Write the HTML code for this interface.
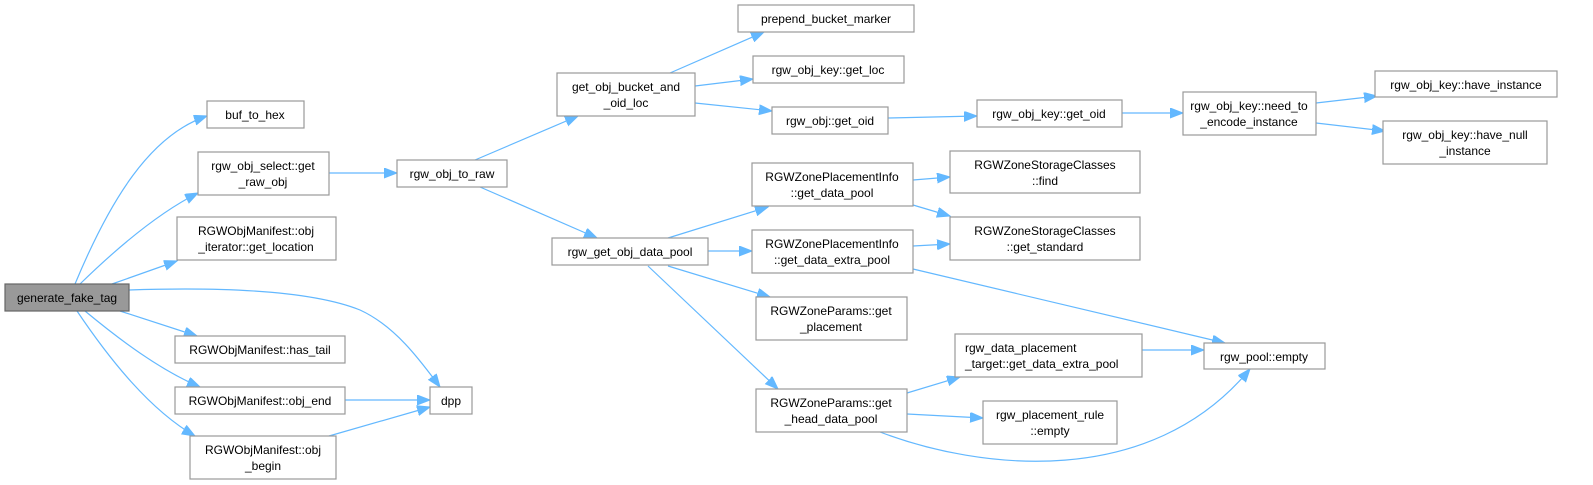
<!DOCTYPE html>
<html><head><meta charset="utf-8"><style>
html,body{margin:0;padding:0;background:#fff;}
svg{display:block;}
text{font-family:"Liberation Sans",sans-serif;font-size:12px;fill:#000;}
rect{fill:#fff;stroke:#999;stroke-width:1.2;}
path.e{fill:none;stroke:#63b8ff;stroke-width:1.2;}
</style></head><body>
<svg width="1593" height="485" viewBox="0 0 1593 485" xmlns="http://www.w3.org/2000/svg">
<defs><marker id="a" markerUnits="userSpaceOnUse" markerWidth="14" markerHeight="12" refX="13" refY="5" orient="auto"><path d="M0,0 L13,5 L0,10 z" fill="#63b8ff" stroke="#63b8ff"/></marker></defs>
<g>
<path class="e" marker-end="url(#a)" d="M75,284 C110,200 150,135 207,116"/>
<path class="e" marker-end="url(#a)" d="M80,284 C120,245 160,212 198,193"/>
<path class="e" marker-end="url(#a)" d="M112,284 L177,261"/>
<path class="e" marker-end="url(#a)" d="M129,290 C220,287 310,290 360,310 C395,326 420,360 440,387"/>
<path class="e" marker-end="url(#a)" d="M120,311 L197,336"/>
<path class="e" marker-end="url(#a)" d="M85,311 C120,340 160,370 200,387"/>
<path class="e" marker-end="url(#a)" d="M77,311 C110,360 150,410 195,436"/>
<path class="e" marker-end="url(#a)" d="M329,173 L397,173"/>
<path class="e" marker-end="url(#a)" d="M345,400 L430,400"/>
<path class="e" marker-end="url(#a)" d="M329,436 L430,407"/>
<path class="e" marker-end="url(#a)" d="M475,160 L578,116"/>
<path class="e" marker-end="url(#a)" d="M480,187 L597,238"/>
<path class="e" marker-end="url(#a)" d="M670,73 L764,32"/>
<path class="e" marker-end="url(#a)" d="M695,86 L753,79"/>
<path class="e" marker-end="url(#a)" d="M695,103 L772,111"/>
<path class="e" marker-end="url(#a)" d="M888,118 L977,116"/>
<path class="e" marker-end="url(#a)" d="M1122,113 L1183,113"/>
<path class="e" marker-end="url(#a)" d="M1316,103 L1377,96"/>
<path class="e" marker-end="url(#a)" d="M1316,123 L1385,131"/>
<path class="e" marker-end="url(#a)" d="M668,238 L768,207"/>
<path class="e" marker-end="url(#a)" d="M708,251 L752,251"/>
<path class="e" marker-end="url(#a)" d="M668,266 L770,297"/>
<path class="e" marker-end="url(#a)" d="M648,266 L778,389"/>
<path class="e" marker-end="url(#a)" d="M913,180 L950,177"/>
<path class="e" marker-end="url(#a)" d="M913,205 L950,216"/>
<path class="e" marker-end="url(#a)" d="M913,246 L950,244"/>
<path class="e" marker-end="url(#a)" d="M913,269 L1225,343"/>
<path class="e" marker-end="url(#a)" d="M907,393 L960,377"/>
<path class="e" marker-end="url(#a)" d="M907,414 L983,418"/>
<path class="e" marker-end="url(#a)" d="M880,432 C980,470 1150,490 1250,369"/>
<path class="e" marker-end="url(#a)" d="M1142,350 L1204,350"/>
</g>
<g text-anchor="middle">
<rect x="5" y="284" width="124" height="27" style="fill:#999;stroke:#666"/><text x="67" y="302">generate_fake_tag</text>
<rect x="207" y="101" width="97" height="27"/><text x="255" y="119">buf_to_hex</text>
<rect x="198" y="152" width="131" height="43"/><text x="263" y="170">rgw_obj_select::get</text><text x="263" y="186">_raw_obj</text>
<rect x="177" y="217" width="159" height="43"/><text x="256" y="235">RGWObjManifest::obj</text><text x="256" y="251">_iterator::get_location</text>
<rect x="175" y="336" width="170" height="27"/><text x="260" y="354">RGWObjManifest::has_tail</text>
<rect x="175" y="387" width="170" height="27"/><text x="260" y="405">RGWObjManifest::obj_end</text>
<rect x="190" y="436" width="146" height="43"/><text x="263" y="454">RGWObjManifest::obj</text><text x="263" y="470">_begin</text>
<rect x="430" y="387" width="42" height="27"/><text x="451" y="405">dpp</text>
<rect x="397" y="160" width="110" height="27"/><text x="452" y="178">rgw_obj_to_raw</text>
<rect x="557" y="73" width="138" height="43"/><text x="626" y="91">get_obj_bucket_and</text><text x="626" y="107">_oid_loc</text>
<rect x="738" y="5" width="176" height="27"/><text x="826" y="23">prepend_bucket_marker</text>
<rect x="753" y="56" width="151" height="27"/><text x="828" y="74">rgw_obj_key::get_loc</text>
<rect x="772" y="107" width="116" height="27"/><text x="830" y="125">rgw_obj::get_oid</text>
<rect x="977" y="100" width="145" height="27"/><text x="1049" y="118">rgw_obj_key::get_oid</text>
<rect x="1183" y="92" width="133" height="43"/><text x="1249" y="110">rgw_obj_key::need_to</text><text x="1249" y="126">_encode_instance</text>
<rect x="1375" y="71" width="182" height="26"/><text x="1466" y="89">rgw_obj_key::have_instance</text>
<rect x="1383" y="121" width="164" height="43"/><text x="1465" y="139">rgw_obj_key::have_null</text><text x="1465" y="155">_instance</text>
<rect x="950" y="151" width="190" height="42"/><text x="1045" y="169">RGWZoneStorageClasses</text><text x="1045" y="185">::find</text>
<rect x="950" y="217" width="190" height="43"/><text x="1045" y="235">RGWZoneStorageClasses</text><text x="1045" y="251">::get_standard</text>
<rect x="552" y="238" width="156" height="27"/><text x="630" y="256">rgw_get_obj_data_pool</text>
<rect x="752" y="163" width="161" height="43"/><text x="832" y="181">RGWZonePlacementInfo</text><text x="832" y="197">::get_data_pool</text>
<rect x="752" y="230" width="161" height="43"/><text x="832" y="248">RGWZonePlacementInfo</text><text x="832" y="264">::get_data_extra_pool</text>
<rect x="756" y="297" width="151" height="43"/><text x="831" y="315">RGWZoneParams::get</text><text x="831" y="331">_placement</text>
<rect x="756" y="389" width="151" height="43"/><text x="831" y="407">RGWZoneParams::get</text><text x="831" y="423">_head_data_pool</text>
<rect x="955" y="334" width="187" height="43"/>
<rect x="983" y="401" width="134" height="43"/><text x="1050" y="419">rgw_placement_rule</text><text x="1050" y="435">::empty</text>
<rect x="1204" y="343" width="121" height="26"/><text x="1264" y="361">rgw_pool::empty</text>
</g>
<text x="965" y="352">rgw_data_placement</text><text x="965" y="368">_target::get_data_extra_pool</text>
</svg>
</body></html>
